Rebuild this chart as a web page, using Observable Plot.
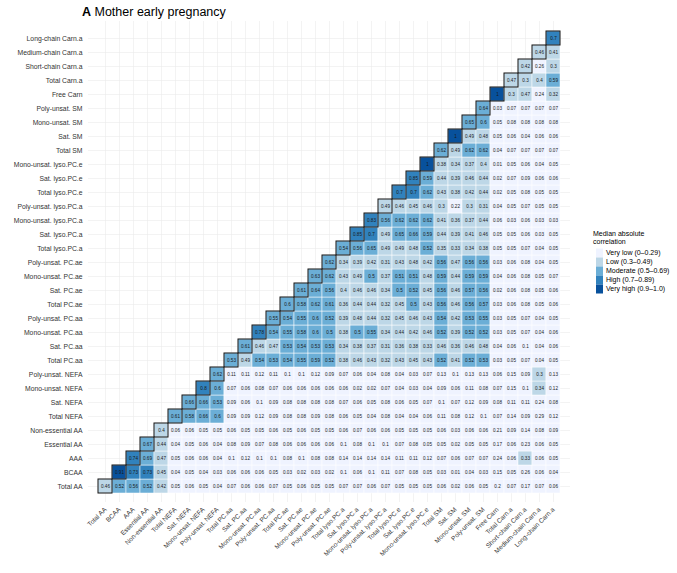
<!DOCTYPE html>
<html><head><meta charset="utf-8">
<script src="https://cdn.jsdelivr.net/npm/d3@7"></script>
<script src="https://cdn.jsdelivr.net/npm/@observablehq/plot@0.6"></script>
<style>body{margin:0;background:#fff} svg{display:block}</style>
</head><body><div id="chart"></div>
<script>
const variables = ["Total AA","BCAA","AAA","Essential AA","Non-essential AA","Total NEFA","Sat. NEFA","Mono-unsat. NEFA","Poly-unsat. NEFA","Total PC.aa","Sat. PC.aa","Mono-unsat. PC.aa","Poly-unsat. PC.aa","Total PC.ae","Sat. PC.ae","Mono-unsat. PC.ae","Poly-unsat. PC.ae","Total lyso.PC.a","Sat. lyso.PC.a","Mono-unsat. lyso.PC.a","Poly-unsat. lyso.PC.a","Total lyso.PC.e","Sat. lyso.PC.e","Mono-unsat. lyso.PC.e","Total SM","Sat. SM","Mono-unsat. SM","Poly-unsat. SM","Free Carn","Total Carn.a","Short-chain Carn.a","Medium-chain Carn.a","Long-chain Carn.a"];
const categories = ["Very low (0\u20130.29)","Low (0.3\u20130.49)","Moderate (0.5\u20130.69)","High (0.7\u20130.89)","Very high (0.9\u20131.0)"];
const categoryColors = ["#eff3ff","#bdd7e7","#6baed6","#3182bd","#08519c"];
const legendTitle = ["Median absolute","correlation"];

// each row starts at its own diagonal cell and runs to the last column
const rowTotalAA = [0.46,0.52,0.56,0.52,0.42,0.05,0.06,0.05,0.04,0.07,0.06,0.06,0.07,0.05,0.06,0.05,0.05,0.07,0.07,0.06,0.07,0.05,0.05,0.05,0.06,0.02,0.06,0.05,0.2,0.07,0.17,0.07,0.06];
const rowBCAA = [0.91,0.73,0.73,0.45,0.04,0.05,0.04,0.03,0.06,0.06,0.06,0.05,0.03,0.02,0.03,0.02,0.1,0.06,0.1,0.11,0.07,0.08,0.05,0.03,0.01,0.04,0.03,0.15,0.05,0.26,0.06,0.04];
const rowAAA = [0.74,0.69,0.47,0.05,0.06,0.06,0.04,0.1,0.12,0.1,0.1,0.08,0.1,0.08,0.08,0.14,0.14,0.14,0.14,0.11,0.11,0.12,0.07,0.06,0.07,0.07,0.24,0.06,0.33,0.06,0.05];
const rowEssentialAA = [0.67,0.44,0.04,0.05,0.06,0.04,0.08,0.09,0.07,0.08,0.06,0.06,0.06,0.06,0.1,0.08,0.1,0.1,0.07,0.08,0.05,0.05,0.02,0.05,0.05,0.17,0.06,0.23,0.06,0.05];
const rowNonEssentialAA = [0.4,0.06,0.06,0.05,0.05,0.06,0.05,0.05,0.06,0.05,0.06,0.05,0.05,0.06,0.07,0.06,0.06,0.05,0.05,0.05,0.06,0.03,0.06,0.06,0.21,0.09,0.14,0.08,0.09];
const rowTotalNEFA = [0.61,0.58,0.66,0.6,0.09,0.09,0.12,0.09,0.08,0.08,0.09,0.08,0.06,0.05,0.04,0.08,0.04,0.04,0.06,0.11,0.08,0.12,0.1,0.07,0.14,0.09,0.29,0.12];
const rowSatNEFA = [0.66,0.66,0.53,0.09,0.06,0.1,0.09,0.08,0.08,0.08,0.08,0.07,0.06,0.05,0.08,0.06,0.05,0.07,0.1,0.07,0.12,0.09,0.08,0.11,0.11,0.24,0.08];
const rowMonoNEFA = [0.8,0.6,0.07,0.06,0.08,0.07,0.06,0.06,0.06,0.06,0.06,0.02,0.02,0.07,0.04,0.03,0.04,0.09,0.06,0.11,0.08,0.07,0.15,0.1,0.34,0.12];
const rowPolyNEFA = [0.62,0.11,0.11,0.12,0.11,0.1,0.1,0.12,0.09,0.07,0.06,0.04,0.08,0.04,0.03,0.07,0.13,0.1,0.13,0.13,0.06,0.15,0.09,0.3,0.13];
const rowTotalPCaa = [0.53,0.49,0.54,0.53,0.54,0.55,0.59,0.52,0.38,0.46,0.43,0.32,0.43,0.45,0.43,0.52,0.41,0.52,0.53,0.03,0.05,0.07,0.04,0.05];
const rowSatPCaa = [0.61,0.46,0.47,0.53,0.54,0.53,0.53,0.34,0.38,0.37,0.31,0.36,0.38,0.33,0.46,0.36,0.46,0.48,0.04,0.06,0.1,0.04,0.06];
const rowMonoPCaa = [0.78,0.54,0.55,0.58,0.6,0.5,0.38,0.5,0.55,0.34,0.44,0.42,0.46,0.52,0.39,0.52,0.52,0.03,0.05,0.07,0.04,0.06];
const rowPolyPCaa = [0.55,0.54,0.55,0.6,0.52,0.39,0.48,0.44,0.32,0.45,0.46,0.43,0.54,0.42,0.53,0.55,0.03,0.05,0.07,0.04,0.05];
const rowTotalPCae = [0.6,0.58,0.62,0.61,0.36,0.44,0.44,0.32,0.45,0.5,0.43,0.56,0.46,0.56,0.57,0.03,0.06,0.08,0.05,0.06];
const rowSatPCae = [0.61,0.64,0.56,0.4,0.46,0.46,0.34,0.5,0.52,0.45,0.56,0.46,0.57,0.56,0.02,0.06,0.08,0.05,0.06];
const rowMonoPCae = [0.63,0.62,0.43,0.49,0.5,0.37,0.51,0.51,0.48,0.59,0.44,0.59,0.59,0.04,0.06,0.08,0.05,0.07];
const rowPolyPCae = [0.62,0.34,0.39,0.42,0.31,0.43,0.48,0.42,0.56,0.47,0.56,0.56,0.03,0.06,0.08,0.04,0.05];
const rowTotalLysoPCa = [0.54,0.56,0.65,0.49,0.49,0.48,0.52,0.35,0.33,0.34,0.38,0.05,0.05,0.07,0.04,0.05];
const rowSatLysoPCa = [0.85,0.7,0.49,0.65,0.66,0.59,0.44,0.39,0.41,0.46,0.05,0.05,0.06,0.03,0.05];
const rowMonoLysoPCa = [0.83,0.56,0.62,0.62,0.62,0.41,0.36,0.37,0.44,0.06,0.03,0.06,0.03,0.03];
const rowPolyLysoPCa = [0.49,0.46,0.45,0.46,0.3,0.22,0.3,0.31,0.04,0.05,0.07,0.05,0.05];
const rowTotalLysoPCe = [0.7,0.7,0.62,0.43,0.38,0.42,0.44,0.02,0.05,0.08,0.05,0.05];
const rowSatLysoPCe = [0.85,0.59,0.44,0.39,0.46,0.44,0.02,0.07,0.09,0.06,0.06];
const rowMonoLysoPCe = [1,0.38,0.34,0.37,0.4,0.01,0.05,0.06,0.04,0.05];
const rowTotalSM = [0.62,0.49,0.62,0.62,0.04,0.07,0.07,0.07,0.07];
const rowSatSM = [1,0.49,0.48,0.05,0.06,0.04,0.06,0.06];
const rowMonoSM = [0.65,0.6,0.05,0.08,0.08,0.08,0.08];
const rowPolySM = [0.64,0.03,0.07,0.07,0.07,0.07];
const rowFreeCarn = [1,0.3,0.47,0.24,0.32];
const rowTotalCarn = [0.47,0.3,0.4,0.59];
const rowShortCarn = [0.42,0.26,0.3];
const rowMediumCarn = [0.46,0.41];
const rowLongCarn = [0.7];

const rowValues = [rowTotalAA,rowBCAA,rowAAA,rowEssentialAA,rowNonEssentialAA,rowTotalNEFA,rowSatNEFA,rowMonoNEFA,rowPolyNEFA,rowTotalPCaa,rowSatPCaa,rowMonoPCaa,rowPolyPCaa,rowTotalPCae,rowSatPCae,rowMonoPCae,rowPolyPCae,rowTotalLysoPCa,rowSatLysoPCa,rowMonoLysoPCa,rowPolyLysoPCa,rowTotalLysoPCe,rowSatLysoPCe,rowMonoLysoPCe,rowTotalSM,rowSatSM,rowMonoSM,rowPolySM,rowFreeCarn,rowTotalCarn,rowShortCarn,rowMediumCarn,rowLongCarn];

function catIndex(v) { return v < 0.3 ? 0 : v < 0.5 ? 1 : v < 0.7 ? 2 : v < 0.9 ? 3 : 4; }
const cells = [];
rowValues.forEach((vals, j) => vals.forEach((v, k) => {
  cells.push({x: variables[j + k], y: variables[j], v, cat: categories[catIndex(v)], diag: k === 0});
}));

const font = "'Liberation Sans', Arial, Helvetica, sans-serif";
const plot = Plot.plot({
  width: 677, height: 573,
  marginLeft: 88, marginRight: 107, marginTop: 21, marginBottom: 71,
  style: {fontFamily: font, background: "white", overflow: "visible"},
  x: {domain: variables, padding: 0, label: null, axis: null},
  y: {domain: variables.slice().reverse(), padding: 0, label: null, axis: null},
  color: {domain: categories, range: categoryColors},
  marks: [
    Plot.gridX({stroke: "#ebebeb", strokeOpacity: 1, strokeWidth: 0.6}),
    Plot.gridY({stroke: "#ebebeb", strokeOpacity: 1, strokeWidth: 0.6}),
    Plot.cell(cells, {x: "x", y: "y", fill: "cat", stroke: "white", strokeWidth: 0.5, inset: 0}),
    Plot.cell(cells.filter(d => d.diag), {x: "x", y: "y", fill: "none", stroke: "#111", strokeWidth: 1, inset: 0}),
    Plot.text(cells, {x: "x", y: "y", text: d => String(d.v), fontSize: 4.6, fill: "#1a1a1a"}),
    Plot.axisX({anchor: "bottom", tickRotate: -45, tickSize: 0, tickPadding: 6, fontSize: 6.5, color: "#333", label: null}),
    Plot.axisY({anchor: "left", tickSize: 0, tickPadding: 6, fontSize: 6.8, color: "#333", label: null})
  ]
});
document.getElementById("chart").appendChild(plot);

const svg = d3.select(plot);
const colorScale = plot.scale("color");
const title = svg.append("text").attr("x", 82).attr("y", 16).attr("font-size", 12.5).attr("fill", "#000")
  .attr("font-family", font).attr("text-anchor", "start");
title.append("tspan").attr("font-weight", "bold").text("A");
title.append("tspan").text(" Mother early pregnancy");

const lg = svg.append("g").attr("font-family", font).attr("font-size", 7).attr("fill", "#000").attr("text-anchor", "start");
legendTitle.forEach((t, i) => lg.append("text").attr("x", 593).attr("y", 236 + i * 8).attr("text-anchor", "start").text(t));
categories.forEach((c, i) => {
  lg.append("rect").attr("x", 596).attr("y", 248.5 + i * 9).attr("width", 7).attr("height", 9).attr("fill", colorScale.apply(c));
  lg.append("text").attr("x", 606).attr("y", 253 + i * 9).attr("dy", "0.35em").attr("text-anchor", "start").text(c);
});
</script>
</body></html>
